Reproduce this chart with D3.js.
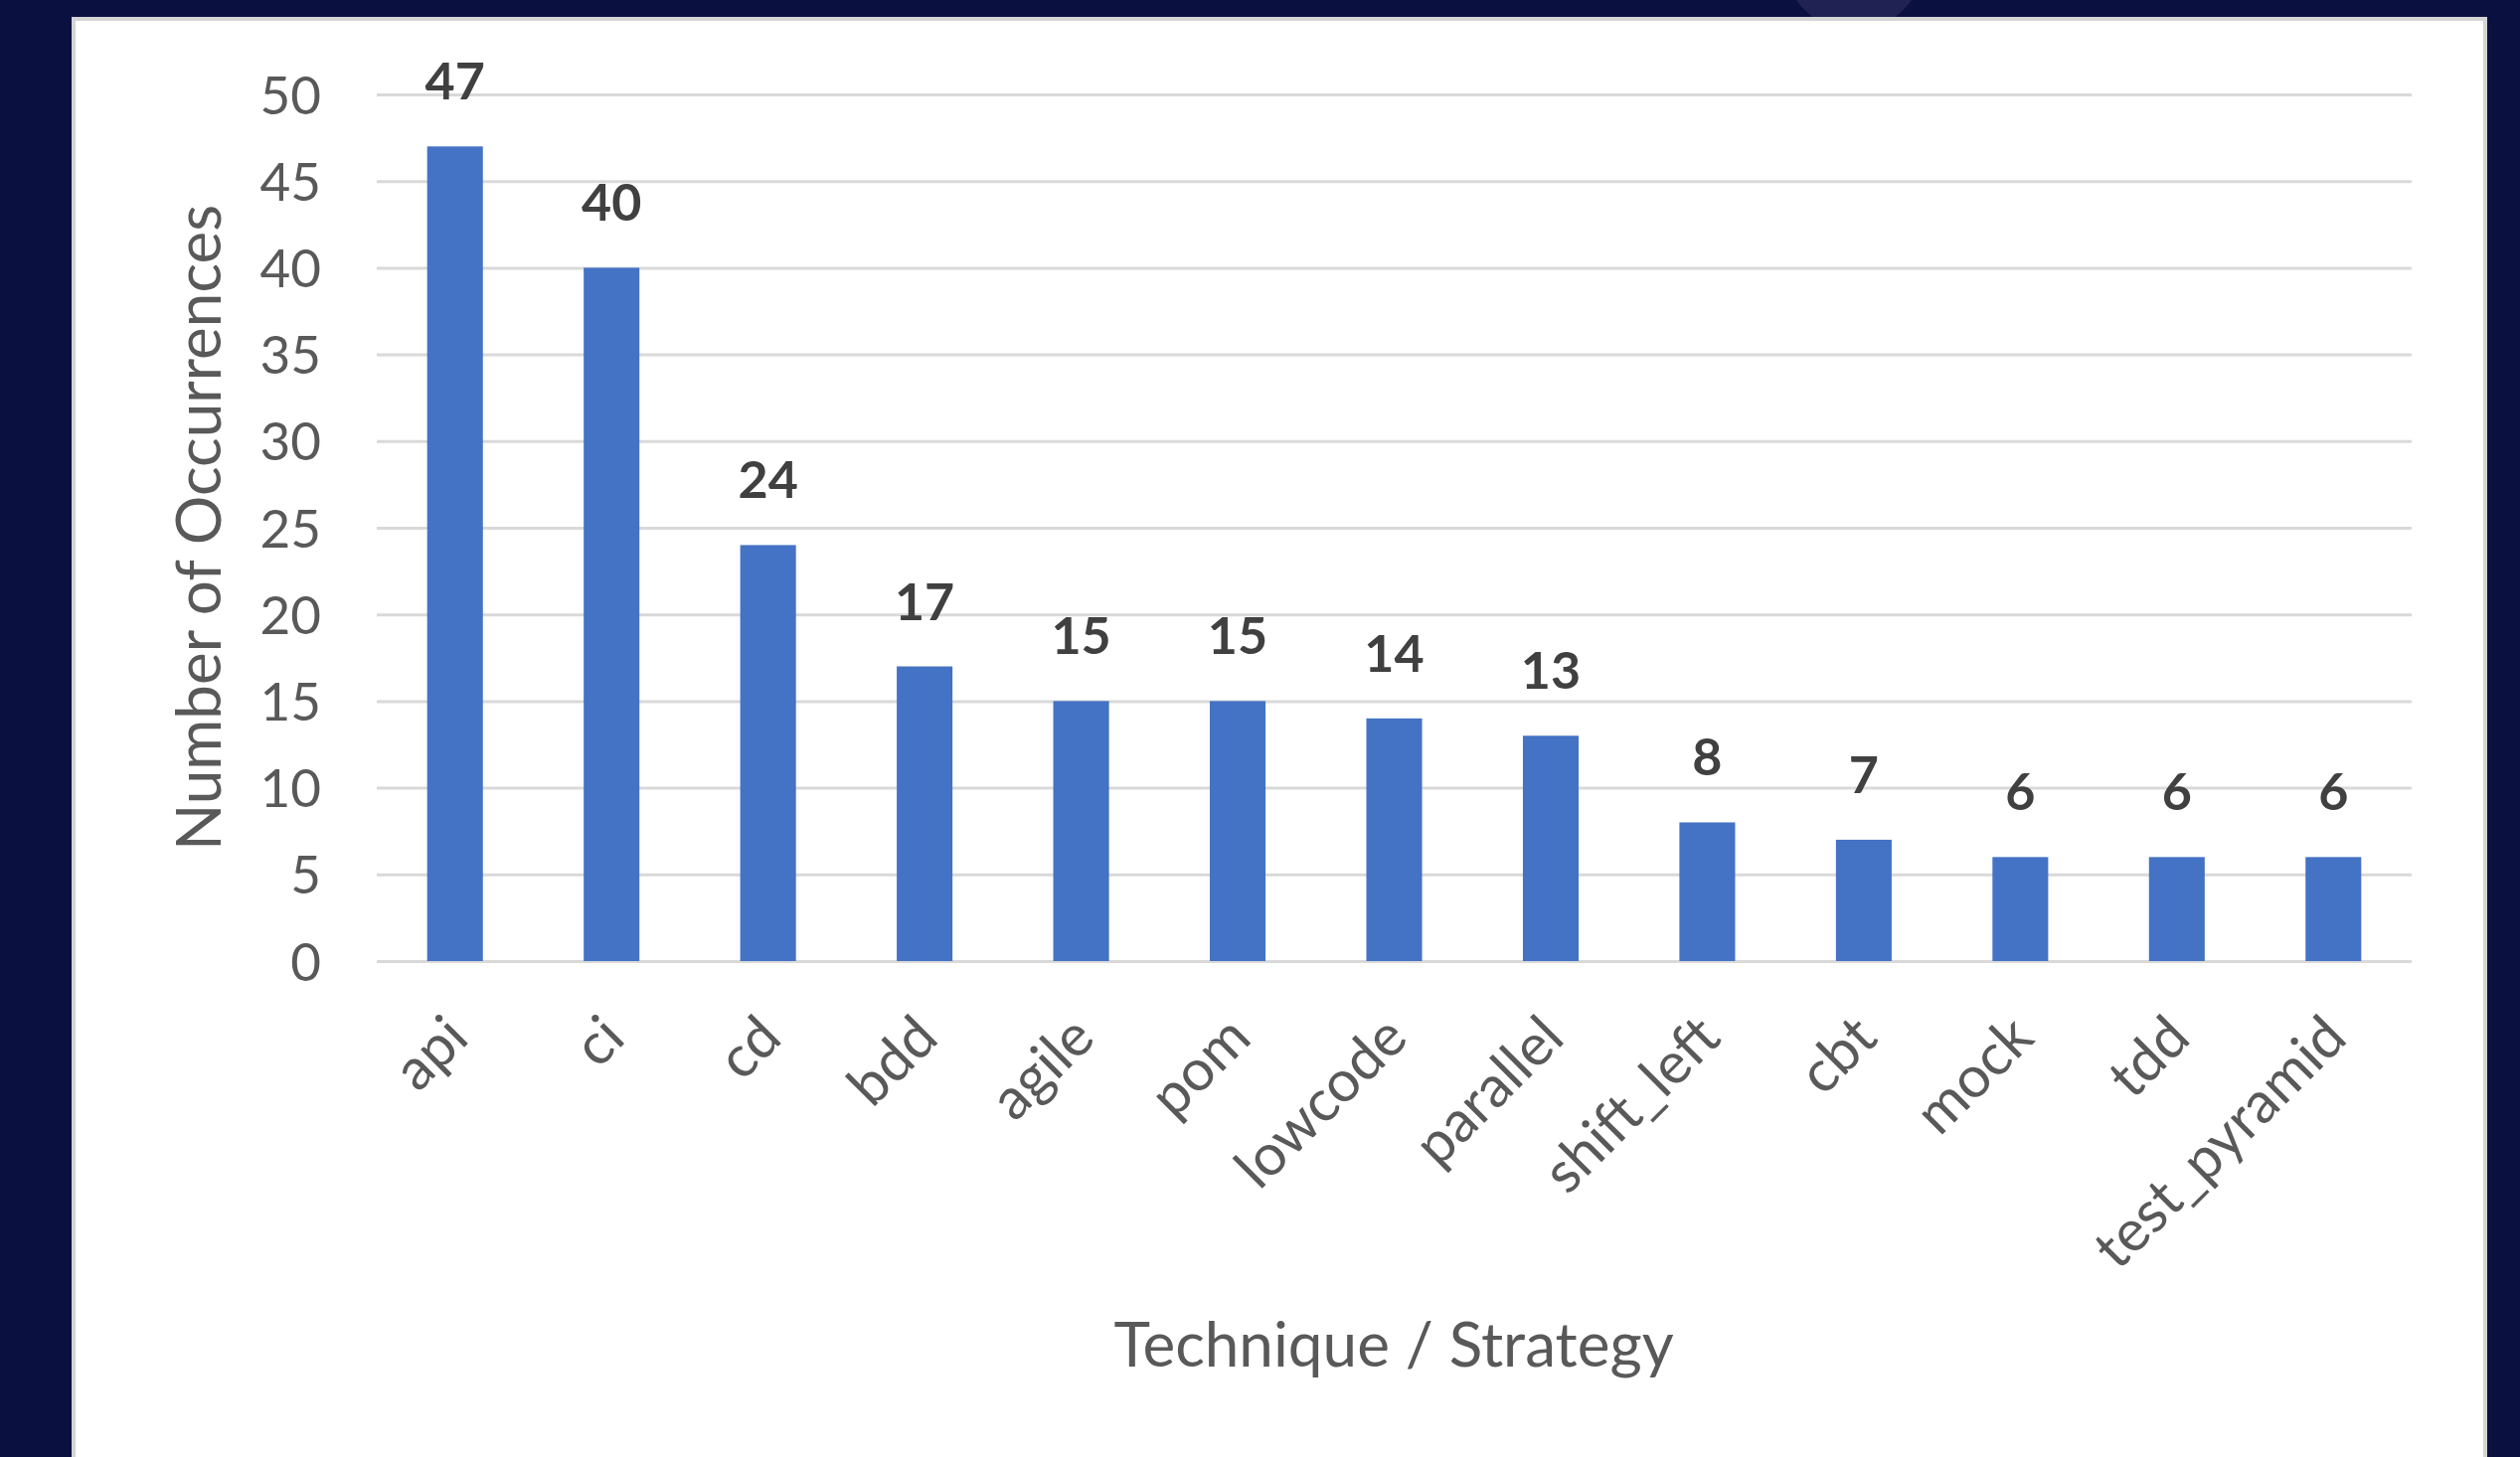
<!DOCTYPE html>
<html>
<head>
<meta charset="utf-8">
<script src="https://cdn.jsdelivr.net/npm/d3@7/dist/d3.min.js"></script>
<style>
  html, body { margin: 0; padding: 0; background: #0a1040; }
  svg { display: block; }
</style>
</head>
<body>
<svg id="chart" width="2535" height="1466"></svg>
<script>
const categories = ["api", "ci", "cd", "bdd", "agile", "pom", "lowcode", "parallel", "shift_left", "cbt", "mock", "tdd", "test_pyramid"];
const values = [47, 40, 24, 17, 15, 15, 14, 13, 8, 7, 6, 6, 6];
const yTicks = [0, 5, 10, 15, 20, 25, 30, 35, 40, 45, 50];
const yTitle = "Number of Occurrences";
const xTitle = "Technique / Strategy";

const svg = d3.select("#chart");
const W = 2535, H = 1466;

// slide background
svg.append("rect").attr("width", W).attr("height", H).attr("fill", "#0a1040");
svg.append("circle").attr("cx", 1865).attr("cy", -40).attr("r", 70.5).attr("fill", "#1f2252");

// white panel
svg.append("rect")
  .attr("x", 74).attr("y", 19).attr("width", 2426).attr("height", 1460)
  .attr("fill", "#ffffff").attr("stroke", "#d4d4d4").attr("stroke-width", 4);

const x = d3.scaleBand()
  .domain(categories)
  .range([379, 2426])
  .paddingInner(0.644)
  .paddingOuter(0.322);

const y = d3.scaleLinear().domain([0, 50]).range([967, 95]);

const font = "Lato, 'Open Sans', sans-serif";

// gridlines + y axis via d3.axisLeft
const yAxis = svg.append("g")
  .attr("transform", "translate(379,0)")
  .call(d3.axisLeft(y).tickValues(yTicks).tickSize(-(2426 - 379)).tickPadding(56).tickFormat(d3.format("d")));
yAxis.select(".domain").remove();
yAxis.selectAll(".tick line").attr("stroke", "#d9d9d9").attr("stroke-width", 3);
yAxis.selectAll(".tick text")
  .attr("fill", "#595959").attr("font-family", font).attr("font-size", 53)
  .attr("dy", "0.36em");

// bars
svg.append("g").selectAll("rect")
  .data(categories)
  .join("rect")
  .attr("x", d => x(d))
  .attr("width", x.bandwidth())
  .attr("y", (d, i) => y(values[i]))
  .attr("height", (d, i) => y(0) - y(values[i]))
  .attr("fill", "#4472c4");

// value labels
svg.append("g").selectAll("text")
  .data(categories)
  .join("text")
  .attr("x", d => x(d) + x.bandwidth() / 2)
  .attr("y", (d, i) => y(values[i]) - 47)
  .attr("text-anchor", "middle")
  .attr("font-family", font).attr("font-weight", "bold").attr("font-size", 52)
  .attr("fill", "#404040")
  .text((d, i) => values[i]);

// x axis labels
const xAxis = svg.append("g")
  .attr("transform", `translate(0,${y(0)})`)
  .call(d3.axisBottom(x).tickSize(0).tickPadding(0));
xAxis.select(".domain").remove();
xAxis.selectAll(".tick text")
  .attr("fill", "#595959").attr("font-family", font).attr("font-size", 58)
  .attr("text-anchor", "end")
  .attr("dy", null)
  .attr("transform", "translate(16,80) rotate(-45)");

// axis titles
svg.append("text")
  .attr("transform", `translate(222,531) rotate(-90)`)
  .attr("text-anchor", "middle")
  .attr("font-family", font).attr("font-size", 62).attr("fill", "#595959")
  .text(yTitle);

svg.append("text")
  .attr("x", 1402).attr("y", 1375)
  .attr("text-anchor", "middle")
  .attr("font-family", font).attr("font-size", 62).attr("fill", "#595959")
  .text(xTitle);
</script>
</body>
</html>
